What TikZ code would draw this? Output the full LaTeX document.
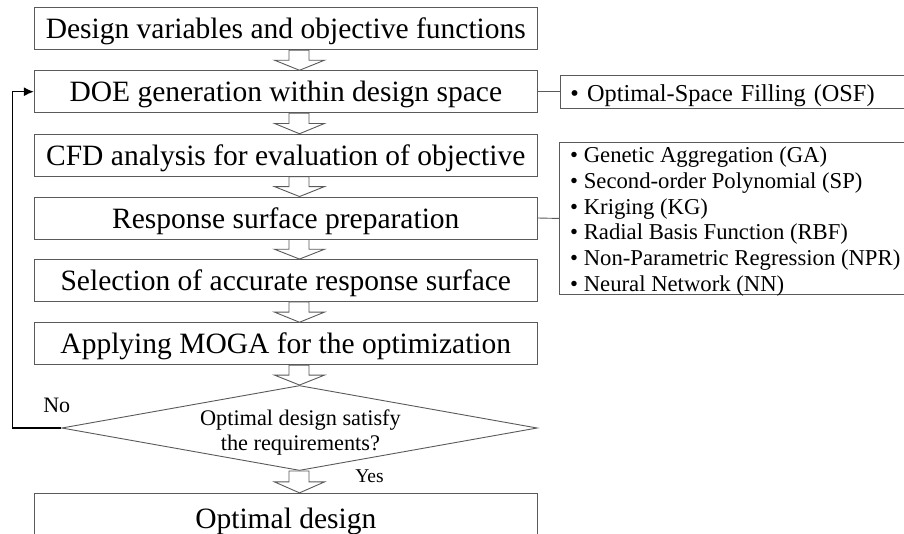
\documentclass[tikz,border=0pt]{standalone}
\usepackage{fontspec}
\setmainfont{Liberation Serif}
\usetikzlibrary{shapes.geometric,arrows.meta,calc}
\definecolor{edge}{HTML}{5A5A5A}
\tikzset{
 mainbox/.style={draw=edge, line width=0.9pt, minimum width=503pt, minimum height=42pt, inner sep=0pt, font=\fontsize{29.5}{32}\selectfont, text height=24pt, text depth=4pt},
 sidebox/.style={draw=edge, line width=0.9pt, inner sep=0pt},
 sidetext/.style={font=\fontsize{22.7}{25.7}\selectfont, inner sep=0pt, anchor=base west},
 blockarrow/.style={draw=edge, line width=0.9pt, fill=white, line join=miter},
 link/.style={draw=edge, line width=0.9pt},
 loopline/.style={draw=black, line width=1.4pt, -{Latex[length=10pt,width=9pt]}},
 lbl/.style={inner sep=0pt, anchor=base},
 dtextstyle/.style={font=\fontsize{22.3}{25.7}\selectfont, align=center, inner sep=0pt},
}
\newcommand{\blockarr}[2]{%
  \draw[blockarrow] let \p1=(#1), \p2=(#2), \n1={\y1+0.5*(\y2-\y1)} in
    (289pt,\y1) -- (309pt,\y1) -- (309pt,\n1) -- (324.5pt,\n1) --
    (299.5pt,\y2) -- (274.5pt,\n1) -- (289pt,\n1) -- cycle;}
\begin{document}
\begin{tikzpicture}[x=1pt,y=-1pt]
\useasboundingbox (0,0) rectangle (904,533);
\clip (0,0) rectangle (904,533);
\fill[white] (0,0) rectangle (904,533);

\node[mainbox] (b1) at (285.8,28.7) {Design variables and objective functions};
\node[mainbox] (b2) at (285.8,91.7) {DOE generation within design space};
\node[mainbox] (b3) at (285.8,155.2) {CFD analysis for evaluation of objective};
\node[mainbox] (b4) at (285.8,218) {Response surface preparation};
\node[mainbox] (b5) at (285.8,280.5) {Selection of accurate response surface};
\node[mainbox] (b6) at (285.8,343.7) {Applying MOGA for the optimization};
\node[draw=edge, line width=0.9pt, diamond, shape aspect=5.5, inner sep=0pt,
      minimum width=475.6pt, minimum height=85pt] (dec) at (299.5,428) {};
\node[dtextstyle] (dtext) at (300.4,432.5) {Optimal design satisfy\\the requirements?};
\node[mainbox, minimum height=50pt] (b7) at (285.8,518.3) {Optimal design};

\node[sidebox, anchor=west, minimum width=360pt, minimum height=33pt,
      inner xsep=10pt, text width=340pt, align=left, text height=20pt, text depth=0.4pt,
      font=\fontsize{24.3}{26}\selectfont] (osf) at (560,91.7)
      {• Optimal-Space Filling (OSF)};
\node[sidebox, anchor=north west, minimum width=360pt, minimum height=152.6pt] (sb) at (559.3,141.7) {};
\node[sidetext] (t1) at (570,162.8) {• Genetic Aggregation (GA)};
\node[sidetext] (t2) at (570,188.5) {• Second-order Polynomial (SP)};
\node[sidetext] (t3) at (570,214.2) {• Kriging (KG)};
\node[sidetext] (t4) at (570,239.9) {• Radial Basis Function (RBF)};
\node[sidetext] (t5) at (570,265.6) {• Non-Parametric Regression (NPR)};
\node[sidetext] (t6) at (570,291.3) {• Neural Network (NN)};

\draw[link] (b2.east) -- (osf.west);
\draw[link] (b4.east) -- (sb.west);

\blockarr{b1.south}{b2.north}
\blockarr{b2.south}{b3.north}
\blockarr{b3.south}{b4.north}
\blockarr{b4.south}{b5.north}
\blockarr{b5.south}{b6.north}
\blockarr{b6.south}{dec.north}
\blockarr{dec.south}{b7.north}

\coordinate (lp) at (12.7,428);
\draw[loopline] (dec.west) -- (lp) |- (b2.west);

\node[lbl, font=\fontsize{22}{24}\selectfont] (no) at (56.7,412.5) {No};
\node[lbl, font=\fontsize{19.5}{22}\selectfont] (yes) at (369.5,482.5) {Yes};
\end{tikzpicture}
\end{document}
